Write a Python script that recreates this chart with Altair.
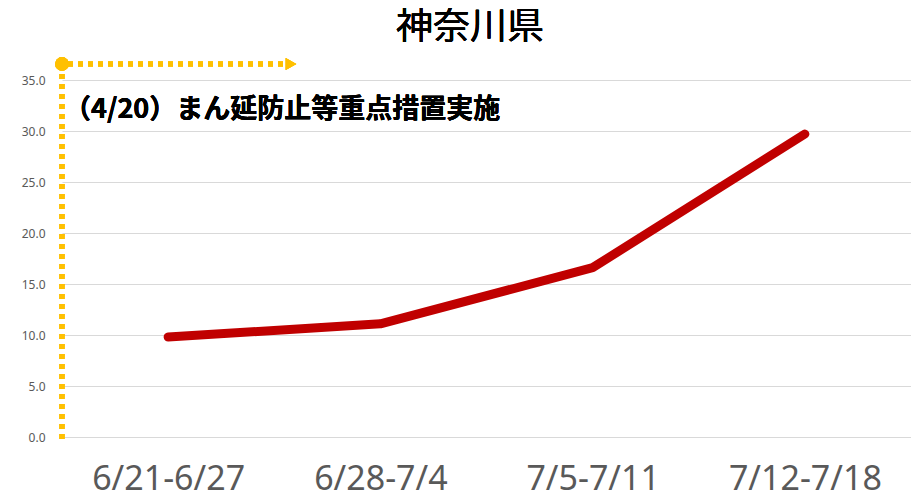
import altair as alt
import pandas as pd

weeks = ["6/21-6/27", "6/28-7/4", "7/5-7/11", "7/12-7/18"]
values = [9.8, 11.1, 16.6, 29.7]
y_ticks = [0, 5, 10, 15, 20, 25, 30, 35]
chart_title = "神奈川県"
note_text = "（4/20）まん延防止等重点措置実施"

df = pd.DataFrame({"week": weeks, "value": values})

W, H = 849, 357

x_enc = alt.X("week:N", sort=weeks, title=None,
              scale=alt.Scale(paddingInner=0, paddingOuter=0),
              axis=alt.Axis(labelAngle=0, labelFontSize=34, labelColor="#595959",
                            labelFont="Noto Sans", labelPadding=25, ticks=False,
                            domain=False, grid=False))
y_enc = alt.Y("value:Q", title=None,
              scale=alt.Scale(domain=[0, 35], nice=False, zero=True),
              axis=alt.Axis(values=y_ticks, format=".1f", labelFontSize=12,
                            labelColor="#595959", labelFont="Noto Sans", labelPadding=17,
                            ticks=False, domain=False, gridColor="#D9D9D9", gridWidth=1.2))

line = alt.Chart(df).mark_line(color="#C00000", strokeWidth=9, strokeCap="round",
                               strokeJoin="round").encode(x=x_enc, y=y_enc)

yellow = "#FFC000"
vline = alt.Chart(df).mark_rule(color=yellow, strokeWidth=5, strokeDash=[5, 5]).encode(
    x=alt.value(0), y=alt.value(-16), y2=alt.value(H + 4))
hline = alt.Chart(df).mark_rule(color=yellow, strokeWidth=5, strokeDash=[5, 5]).encode(
    x=alt.value(6), x2=alt.value(224), y=alt.value(-16))
dot = alt.Chart(df).mark_point(filled=True, color=yellow, size=190, opacity=1, shape="circle").encode(
    x=alt.value(0), y=alt.value(-16))
arrow = alt.Chart(df).mark_point(filled=True, color=yellow, size=150, opacity=1,
                                 shape="triangle-right").encode(
    x=alt.value(229), y=alt.value(-16))

note = alt.Chart(df).mark_text(text=note_text, font="Noto Sans CJK JP", fontSize=27,
                               fontWeight="bold", align="left", baseline="middle",
                               color="#000000").encode(
    x=alt.value(2), y=alt.value(30))
title = alt.Chart(df).mark_text(text=chart_title, font="Noto Sans CJK JP", fontSize=37,
                                align="center", baseline="middle", color="#000000").encode(
    x=alt.value(408), y=alt.value(-52))

chart = alt.layer(line, vline, hline, dot, arrow, note, title).properties(
    width=W, height=H,
    autosize=alt.AutoSizeParams(type="none"),
    padding={"left": 54, "top": 72, "right": 0, "bottom": 54},
).configure_view(stroke=None)

chart.save("out.html", embed_options={"renderer": "svg", "actions": False})
